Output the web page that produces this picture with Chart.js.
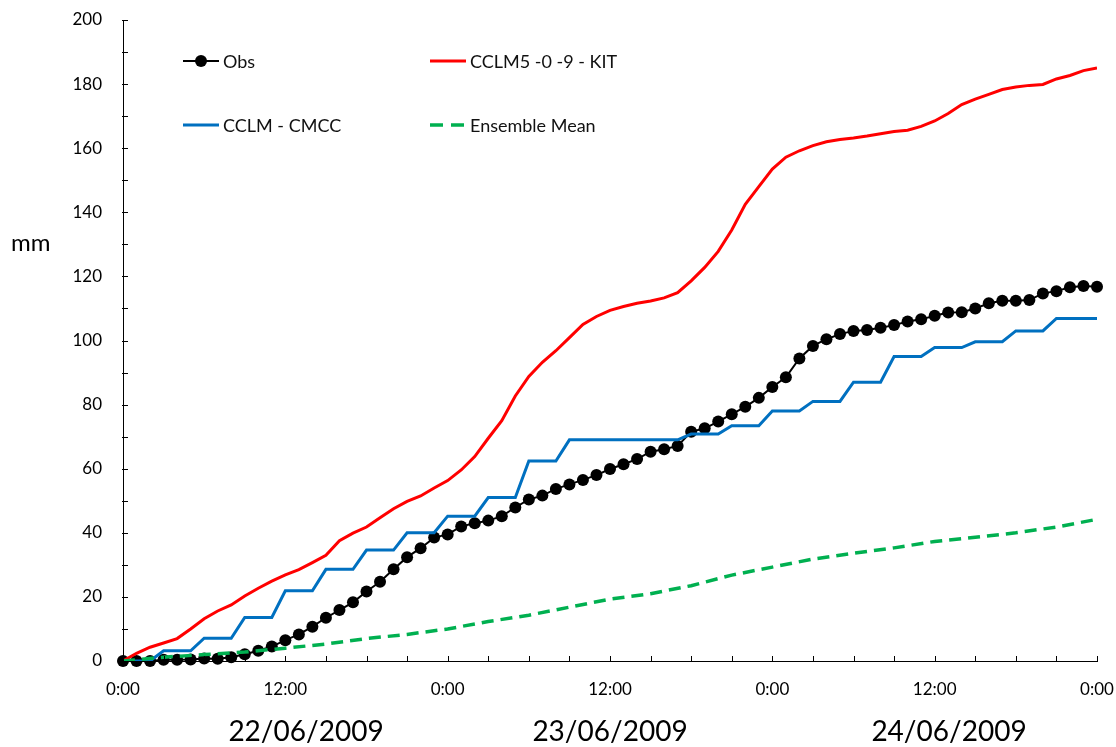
<!DOCTYPE html>
<html><head><meta charset="utf-8">
<script src="https://cdn.jsdelivr.net/npm/chart.js@4.4.0/dist/chart.umd.min.js"></script>
<style>html,body{margin:0;padding:0;background:#fff;}#wrap{width:1116px;height:747px;}</style>
</head><body><div id="wrap"><canvas id="c" width="1116" height="747"></canvas></div>
<script>
// ---- data (hours since 22/06/2009 0:00) ----
const hours = [0,1,2,3,4,5,6,7,8,9,10,11,12,13,14,15,16,17,18,19,20,21,22,23,24,25,26,27,28,29,30,31,32,33,34,35,36,37,38,39,40,41,42,43,44,45,46,47,48,49,50,51,52,53,54,55,56,57,58,59,60,61,62,63,64,65,66,67,68,69,70,71,72];
const obsValues = [0,0,0,0.4,0.4,0.5,0.8,0.7,1.2,2.1,3.2,4.5,6.5,8.3,10.7,13.5,15.9,18.3,21.7,24.7,28.6,32.4,35.2,38.5,39.5,42.0,43.0,43.8,45.2,47.9,50.4,51.6,53.7,55.1,56.5,58.0,59.9,61.4,63.0,65.3,66.1,67.1,71.5,72.6,74.7,77.0,79.3,82.1,85.5,88.5,94.4,98.3,100.4,102.0,103.0,103.3,104.0,104.8,105.9,106.6,107.7,108.7,108.8,110.0,111.6,112.4,112.4,112.6,114.7,115.4,116.6,117.0,116.8];
const kitValues = [0,2.4,4.3,5.6,7.0,10.0,13.2,15.6,17.5,20.3,22.7,24.9,26.9,28.5,30.7,33.0,37.5,39.9,41.8,44.7,47.5,49.8,51.5,54.0,56.3,59.6,63.8,69.5,75.0,82.7,88.8,93.2,96.8,100.9,105.0,107.5,109.4,110.6,111.6,112.3,113.3,114.9,118.6,122.8,127.8,134.5,142.5,148.0,153.5,157.2,159.2,160.8,162.0,162.7,163.2,163.8,164.5,165.2,165.6,166.8,168.5,170.8,173.6,175.3,176.8,178.3,179.1,179.6,179.9,181.6,182.7,184.2,185.0];
const cmccValues = [0,0,0,3.2,3.2,3.2,7.1,7.1,7.1,13.6,13.6,13.6,21.9,21.9,21.9,28.6,28.6,28.6,34.6,34.6,34.6,40.0,40.0,40.0,45.2,45.2,45.2,51.0,51.0,51.0,62.4,62.4,62.4,69.0,69.0,69.0,69.0,69.0,69.0,69.0,69.0,69.0,70.8,70.8,70.8,73.4,73.4,73.4,78.0,78.0,78.0,81.0,81.0,81.0,87.0,87.0,87.0,95.0,95.0,95.0,97.8,97.8,97.8,99.6,99.6,99.6,103.0,103.0,103.0,106.9,106.9,106.9,106.9];
const ensembleHours = [0,3,6,9,12,15,18,21,24,27,30,33,36,39,42,45,48,51,54,57,60,63,66,69,72];
const ensembleValues = [0,1.2,2.0,2.8,4.0,5.3,7.0,8.3,10.0,12.3,14.3,16.8,19.3,21.0,23.5,26.8,29.3,31.8,33.6,35.3,37.3,38.6,40.0,41.8,44.2];
const xTickLabels = ['0:00','12:00','0:00','12:00','0:00','12:00','0:00'];
const dateLabels = ['22/06/2009','23/06/2009','24/06/2009'];
const seriesNames = ['Obs','CCLM5 -0 -9 - KIT','CCLM - CMCC','Ensemble Mean'];
const yTitle = 'mm';

const FONT = 'Lato, "Open Sans", "Liberation Sans", sans-serif';
const pts = (xs, ys) => ys.map((v, i) => ({x: xs[i], y: v}));

const decorPlugin = {
  id: 'decor',
  afterDraw(chart) {
    const ctx = chart.ctx, ca = chart.chartArea;
    const xs = chart.scales.x, ys = chart.scales.y;
    ctx.save();
    // inside tick marks
    ctx.strokeStyle = '#000'; ctx.lineWidth = 1;
    xs.ticks.forEach(t => {
      const px = Math.round(xs.getPixelForValue(t.value)) + 0.5;
      ctx.beginPath(); ctx.moveTo(px, ca.bottom + 1); ctx.lineTo(px, ca.bottom - 5); ctx.stroke();
    });
    ys.ticks.forEach(t => {
      const py = Math.round(ys.getPixelForValue(t.value)) + 0.5;
      ctx.beginPath(); ctx.moveTo(ca.left - 1, py); ctx.lineTo(ca.left + 5, py); ctx.stroke();
    });
    // date labels
    ctx.fillStyle = '#000';
    ctx.font = '28px ' + FONT;
    ctx.textAlign = 'center'; ctx.textBaseline = 'alphabetic';
    const dateX = [306, 610, 949];
    dateLabels.forEach((d, i) => ctx.fillText(d, dateX[i], 741));
    // y title
    ctx.font = '24px ' + FONT;
    ctx.textAlign = 'left'; ctx.textBaseline = 'middle';
    ctx.fillText(yTitle, 11, 243);
    // legend
    ctx.font = '18px ' + FONT;
    ctx.fillStyle = '#111';
    const rows = [61, 125];
    const cols = [183, 430];
    const items = [
      {c: 0, r: 0, color: '#000', w: 2, dash: [], dot: true},
      {c: 1, r: 0, color: '#FF0000', w: 3, dash: []},
      {c: 0, r: 1, color: '#0070C0', w: 3, dash: []},
      {c: 1, r: 1, color: '#00B050', w: 3.5, dash: [13, 8]}
    ];
    items.forEach((it, i) => {
      const x0 = cols[it.c], y = rows[it.r];
      ctx.strokeStyle = it.color; ctx.lineWidth = it.w; ctx.setLineDash(it.dash);
      ctx.beginPath(); ctx.moveTo(x0, y); ctx.lineTo(x0 + 36, y); ctx.stroke();
      ctx.setLineDash([]);
      if (it.dot) { ctx.fillStyle = '#000'; ctx.beginPath(); ctx.arc(x0 + 18, y, 6, 0, Math.PI * 2); ctx.fill(); }
      ctx.fillStyle = '#111';
      ctx.fillText(seriesNames[i], x0 + 40, y + 1);
    });
    ctx.restore();
  }
};

new Chart(document.getElementById('c'), {
  type: 'line',
  data: {
    datasets: [
      {label: seriesNames[0], data: pts(hours, obsValues), borderColor: '#000', backgroundColor: '#000', borderWidth: 2, pointRadius: 6, pointHoverRadius: 6, pointBorderWidth: 0, order: 4, clip: false},
      {label: seriesNames[1], data: pts(hours, kitValues), borderColor: '#FF0000', borderWidth: 3, pointRadius: 0, order: 3},
      {label: seriesNames[2], data: pts(hours, cmccValues), borderColor: '#0070C0', borderWidth: 3, pointRadius: 0, order: 2},
      {label: seriesNames[3], data: pts(ensembleHours, ensembleValues), borderColor: '#00B050', borderWidth: 3.5, borderDash: [12, 7], pointRadius: 0, order: 1}
    ]
  },
  options: {
    responsive: false, animation: false, devicePixelRatio: 1,
    layout: {padding: {top: 20, right: 19, left: 0, bottom: 0}},
    elements: {line: {tension: 0}},
    plugins: {legend: {display: false}, tooltip: {enabled: false}},
    scales: {
      x: {
        type: 'linear', min: 0, max: 72,
        afterFit: s => { s.height = 86; s.paddingLeft = 0; s.paddingRight = 0; },
        grid: {display: true, drawOnChartArea: false, drawTicks: false},
        border: {display: true, color: '#000', width: 1},
        ticks: {stepSize: 3, autoSkip: false, maxRotation: 0, padding: 18, color: '#000', font: {family: FONT, size: 17},
          callback: v => (v % 12 === 0 ? xTickLabels[v / 12] : '')}
      },
      y: {
        min: 0, max: 200,
        afterFit: s => { s.width = 123; s.paddingTop = 0; s.paddingBottom = 0; },
        grid: {display: true, drawOnChartArea: false, drawTicks: false},
        border: {display: true, color: '#000', width: 1},
        ticks: {stepSize: 10, autoSkip: false, padding: 21, color: '#000', font: {family: FONT, size: 17},
          callback: v => (v % 20 === 0 ? String(v) : '')}
      }
    }
  },
  plugins: [decorPlugin]
});
</script></body></html>
